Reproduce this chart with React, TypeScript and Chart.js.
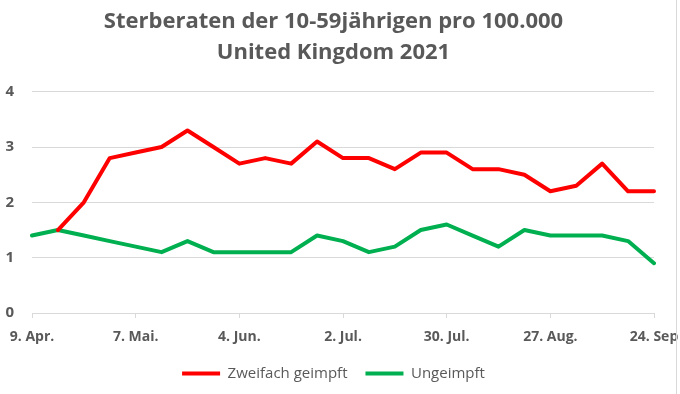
import React, { useEffect, useRef } from 'react';
import { Chart, registerables } from 'chart.js';

Chart.register(...registerables);

const titleLines = ['Sterberaten der 10-59jährigen pro 100.000', 'United Kingdom 2021'];

const weeks = [
  '9. Apr.', '16. Apr.', '23. Apr.', '30. Apr.', '7. Mai.', '14. Mai.', '21. Mai.', '28. Mai.',
  '4. Jun.', '11. Jun.', '18. Jun.', '25. Jun.', '2. Jul.', '9. Jul.', '16. Jul.', '23. Jul.',
  '30. Jul.', '6. Aug.', '13. Aug.', '20. Aug.', '27. Aug.', '3. Sep', '10. Sep', '17. Sep', '24. Sep',
];

const tickEvery = 4;

const zweifachGeimpft = [
  null, 1.5, 2.0, 2.8, 2.9, 3.0, 3.3, 3.0, 2.7, 2.8, 2.7, 3.1, 2.8,
  2.8, 2.6, 2.9, 2.9, 2.6, 2.6, 2.5, 2.2, 2.3, 2.7, 2.2, 2.2,
];

const ungeimpft = [
  1.4, 1.5, 1.4, 1.3, 1.2, 1.1, 1.3, 1.1, 1.1, 1.1, 1.1, 1.4, 1.3,
  1.1, 1.2, 1.5, 1.6, 1.4, 1.2, 1.5, 1.4, 1.4, 1.4, 1.3, 0.9,
];

const yTicks = [0, 1, 2, 3, 4];

const FONT = '"Open Sans", Lato, sans-serif';
const GREY = '#595959';
const GRID = '#d9d9d9';

export default function App() {
  const ref = useRef<HTMLCanvasElement | null>(null);

  useEffect(() => {
    if (!ref.current) return;
    Chart.defaults.font.family = FONT;
    const chart = new Chart(ref.current, {
      type: 'line',
      data: {
        labels: weeks,
        datasets: [
          {
            label: 'Zweifach geimpft',
            data: zweifachGeimpft,
            borderColor: '#ff0000',
            backgroundColor: '#ff0000',
            borderWidth: 4,
            pointRadius: 0,
            pointStyle: 'line',
            borderJoinStyle: 'round',
            borderCapStyle: 'round',
            tension: 0,
            spanGaps: false,
          },
          {
            label: 'Ungeimpft',
            data: ungeimpft,
            borderColor: '#00b050',
            backgroundColor: '#00b050',
            borderWidth: 4,
            pointRadius: 0,
            pointStyle: 'line',
            borderJoinStyle: 'round',
            borderCapStyle: 'round',
            tension: 0,
          },
        ],
      },
      options: {
        responsive: false,
        animation: false,
        layout: { padding: { left: 0, right: 13, top: 0, bottom: 3 } },
        plugins: {
          title: {
            display: true,
            text: titleLines,
            color: GREY,
            font: { family: FONT, size: 22, weight: 'bold', lineHeight: 1.38 },
            padding: { top: 7, bottom: 24 },
          },
          legend: {
            position: 'bottom',
            labels: {
              usePointStyle: true,
              pointStyle: 'line',
              pointStyleWidth: 38,
              color: GREY,
              font: { family: FONT, size: 15 },
              padding: 18,
            },
          },
          tooltip: { enabled: false },
        },
        scales: {
          x: {
            grid: {
              display: true,
              drawOnChartArea: false,
              drawTicks: true,
              tickLength: 5,
              color: (c: any) => (c.index % tickEvery === 0 ? GRID : 'rgba(0,0,0,0)'),
            },
            border: { display: true, color: GRID, width: 1 },
            ticks: {
              autoSkip: false,
              maxRotation: 0,
              color: GREY,
              font: { family: FONT, size: 14, weight: 'bold' },
              padding: 11,
              callback: (_v: any, i: number) => (i % tickEvery === 0 ? weeks[i] : ''),
            },
            afterFit: (s: any) => {
              s.paddingLeft = 0;
              s.paddingRight = 26;
              s.height = 35;
            },
          },
          y: {
            min: yTicks[0],
            max: yTicks[yTicks.length - 1],
            ticks: {
              stepSize: 1,
              color: GREY,
              font: { family: FONT, size: 15, weight: 'bold' },
              padding: 18,
            },
            grid: { color: GRID, drawTicks: false, lineWidth: 1 },
            border: { display: false },
            afterFit: (s: any) => {
              s.width = 32;
            },
          },
        },
      },
    });
    return () => chart.destroy();
  }, []);

  return (
    <div style={{ position: 'fixed', left: 0, top: 0, width: 680, height: 394, background: '#fff' }}>
      <canvas ref={ref} width={680} height={394} style={{ display: 'block' }} />
      <div style={{ position: 'absolute', left: 676, top: 0, width: 1, height: 394, background: GRID }} />
    </div>
  );
}
